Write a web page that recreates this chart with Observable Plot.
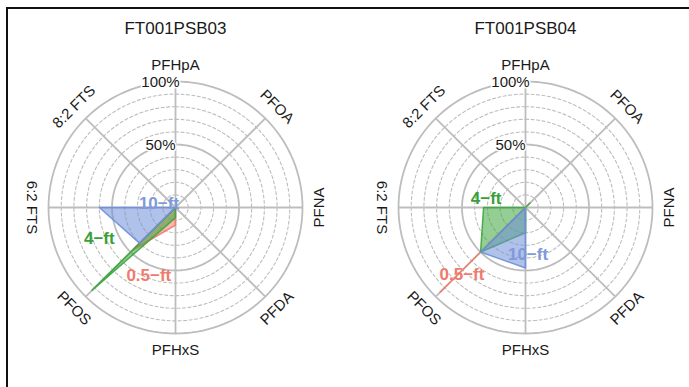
<!DOCTYPE html>
<html><head><meta charset="utf-8">
<script src="https://cdn.jsdelivr.net/npm/d3@7"></script>
<script src="https://cdn.jsdelivr.net/npm/@observablehq/plot@0.6"></script>
<style>
body{margin:0;background:#fff;}
#wrap{position:relative;width:689px;height:387px;overflow:hidden;background:#fff;}
#wrap svg{position:absolute;left:0;top:0;}
#frame{position:absolute;left:6px;top:7px;width:700px;height:400px;border-top:2.5px solid #111;border-left:2.5px solid #111;pointer-events:none;}
</style></head><body><div id="wrap"></div>
<script>
// ---------- data ----------
const sites = ["FT001PSB03", "FT001PSB04"];
const analytes = ["PFHpA", "PFOA", "PFNA", "PFDA", "PFHxS", "PFOS", "6:2 FTS", "8:2 FTS"];
const depths = ["0.5-ft", "4-ft", "10-ft"];
// percent of total, in analyte order
const psb03_05ft = [0, 0, 0, 0, 14, 48, 0, 0];
const psb03_4ft  = [0, 0, 0, 0, 8, 93, 0, 0];
const psb03_10ft = [0, 0, 0, 0, 0, 40, 60, 0];
const psb04_05ft = [0, 0, 0, 0, 0, 95, 0, 0];
const psb04_4ft  = [0, 5, 0, 0, 20, 50, 33, 0];
const psb04_10ft = [0, 0, 0, 0, 48, 50, 0, 0];
const ringTicks = [10, 20, 30, 40, 50, 60, 70, 80, 90, 100];
const ringLabels = ["50%", "100%"];
const ringLabelValues = [50, 100];

// ---------- layout ----------
const W = 689, H = 387;
const CXpx = [175, 525], CYpx = 207, RX = 127, RY = 126;
const centers = CXpx.map(c => (c - CXpx[0]) / RX);
const labelAt = {
  "FT001PSB03": {"10-ft": [-0.13, 0.03], "4-ft": [-0.60, -0.25], "0.5-ft": [-0.21, -0.54]},
  "FT001PSB04": {"4-ft": [-0.31, 0.07], "10-ft": [0.02, -0.37], "0.5-ft": [-0.50, -0.53]}
};
const fillColor = {"0.5-ft": "#f07a6c", "4-ft": "#3ca53c", "10-ft": "#6f8fd8"};
const textColor = {"0.5-ft": "#f07a6e", "4-ft": "#3a9f3a", "10-ft": "#7f99da"};

const seriesTable = [
  {site: 0, depth: "0.5-ft", values: psb03_05ft},
  {site: 0, depth: "4-ft", values: psb03_4ft},
  {site: 0, depth: "10-ft", values: psb03_10ft},
  {site: 1, depth: "0.5-ft", values: psb04_05ft},
  {site: 1, depth: "4-ft", values: psb04_4ft},
  {site: 1, depth: "10-ft", values: psb04_10ft}
];
const ang = i => i * Math.PI * 2 / analytes.length;

const polys = [];
seriesTable.forEach(({site, depth, values}) => {
  const pts = values.map((v, i) => ({key: site + depth, depth,
    x: centers[site] + v / 100 * Math.sin(ang(i)), y: v / 100 * Math.cos(ang(i))}));
  pts.push({...pts[0]});
  polys.push(...pts);
});

const rings = [];
sites.forEach((s, si) => ringTicks.forEach(t => {
  for (let k = 0; k <= 144; k++) {
    const a = k / 144 * 2 * Math.PI;
    rings.push({key: si + "-" + t, t, x: centers[si] + t / 100 * Math.sin(a), y: t / 100 * Math.cos(a)});
  }
}));

const spokes = [];
const axisLabels = [];
sites.forEach((s, si) => analytes.forEach((a, i) => {
  const th = ang(i);
  spokes.push({x1: centers[si], y1: 0, x2: centers[si] + Math.sin(th), y2: Math.cos(th)});
  const deg = i * 360 / analytes.length;
  const rot = (deg >= 90 && deg <= 270) ? deg - 180 : (deg > 270 ? deg - 360 : deg);
  axisLabels.push({text: a, rot, x: centers[si] + 1.13 * Math.sin(th), y: 1.13 * Math.cos(th)});
}));

const pctLabels = [];
sites.forEach((s, si) => ringLabels.forEach((l, j) => pctLabels.push({text: l, x: centers[si], y: ringLabelValues[j] / 100})));

const seriesLabels = [];
sites.forEach((s, si) => depths.forEach(d => {
  const p = labelAt[s][d];
  seriesLabels.push({text: d.replace("-", "\u2212"), depth: d, x: centers[si] + p[0], y: p[1]});
}));

const titles = sites.map((s, si) => ({text: s, x: centers[si], y: (CYpx - 28) / RY}));

const plot = Plot.plot({
  width: W, height: H, margin: 0,
  style: {fontFamily: "'Liberation Sans', Arial, sans-serif", fontSize: "15px", background: "transparent"},
  x: {domain: [-CXpx[0] / RX, (W - CXpx[0]) / RX], range: [0, W], axis: null},
  y: {domain: [-(H - CYpx) / RY, CYpx / RY], range: [H, 0], axis: null},
  marks: [
    Plot.line(rings.filter(d => d.t % 50 !== 0), {x: "x", y: "y", z: "key", stroke: "#bdbdbd", strokeWidth: 1.1, strokeDasharray: "3,2.5"}),
    Plot.line(rings.filter(d => d.t % 50 === 0), {x: "x", y: "y", z: "key", stroke: "#bdbdbd", strokeWidth: 1.8}),
    Plot.link(spokes, {x1: "x1", y1: "y1", x2: "x2", y2: "y2", stroke: "#bdbdbd", strokeWidth: 1.8}),
    Plot.line(polys, {x: "x", y: "y", z: "key", fill: d => fillColor[d.depth], fillOpacity: 0.55,
      stroke: d => fillColor[d.depth], strokeWidth: 1.5, strokeOpacity: 0.9, curve: "linear"}),
    Plot.text(pctLabels, {x: "x", y: "y", text: "text", dx: -15, dy: 1, fill: "#1a1a1a", stroke: "white", strokeWidth: 3, fontSize: 15}),
    Plot.text(axisLabels, {x: "x", y: "y", text: "text", rotate: "rot", fill: "#1a1a1a", fontSize: 15}),
    Plot.text(seriesLabels, {x: "x", y: "y", text: "text", fill: d => textColor[d.depth], fontSize: 17, fontWeight: "bold"}),
    Plot.text(titles, {x: "x", y: "y", text: "text", fill: "#1a1a1a", fontSize: 17})
  ]
});
const wrap = document.getElementById("wrap");
wrap.appendChild(plot);
const frame = document.createElement("div");
frame.id = "frame";
wrap.appendChild(frame);
</script></body></html>
